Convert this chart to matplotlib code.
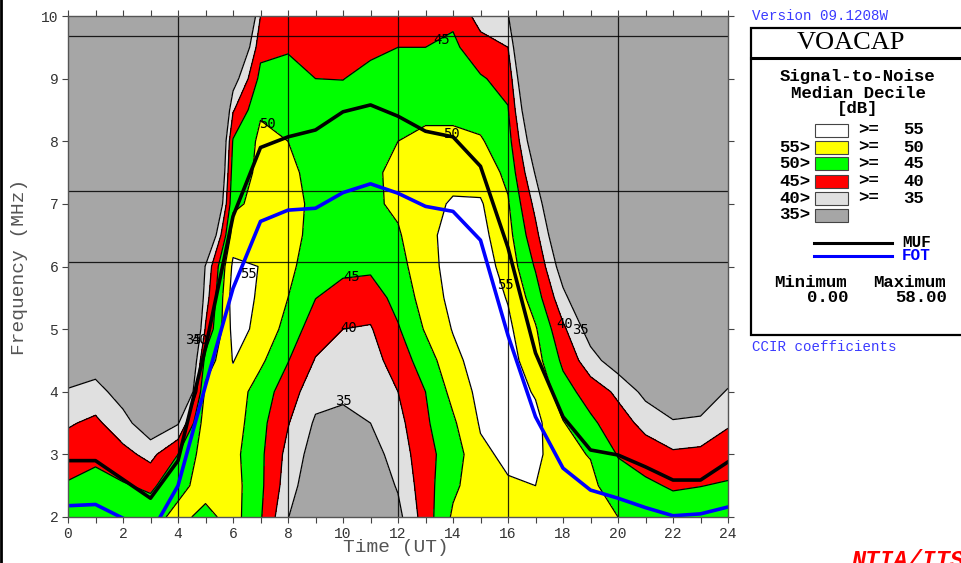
import numpy as np
import matplotlib
matplotlib.use("Agg")
import matplotlib.pyplot as plt
from matplotlib.patches import Rectangle
from matplotlib.lines import Line2D

# --- data ---
hours = np.arange(0, 25)
freqs = np.arange(2.0, 10.01, 0.5)

# median SNR (dB), one row per UT hour, columns = 2.0, 2.5, ... 10.0 MHz
snr_by_hour = [
    [48.5, 45.5, 42.5, 39.5, 35.5, 31, 27, 23, 19, 15, 12, 9, 6, 4, 2, 1, 0],          # 0
    [49, 46.5, 44, 41, 37, 32, 28, 24, 20, 16, 12, 9, 6, 4, 2, 1, 0],                  # 1
    [49, 45.5, 41.5, 37, 32.5, 28, 24, 20, 16, 13, 10, 7, 5, 3, 2, 1, 0],              # 2
    [48, 44, 38.5, 31, 26, 22, 18, 14, 11, 8, 6, 4, 3, 2, 1, 0, 0],                    # 3
    [51.5, 48.5, 45, 34.5, 15, 10, 8, 6, 5, 4, 3, 2, 2, 1, 1, 0, 0],                   # 4
    [48.5, 52, 52.5, 53, 51.5, 47, 40.5, 37.5, 35.5, 24, 12, 6, 4, 3, 2, 1, 0],        # 5
    [52, 52, 51.5, 52.5, 53, 55.2, 56.5, 57.5, 56, 52.5, 49, 47.5, 45.5, 39.5, 32, 22, 12],  # 6
    [45.5, 46, 46, 46.5, 47.5, 51, 54, 54.3, 54.9, 53, 51.5, 51, 51, 49.5, 46.5, 43.5, 40],  # 7
    [35.2, 37.5, 38.5, 40.3, 42.5, 45.2, 48, 50, 51.2, 52, 52, 51, 50, 48.5, 46.5, 44.6, 43],  # 8
    [28, 30.5, 32.5, 34.3, 36.8, 39.7, 42.3, 45.1, 47.2, 48.2, 48.7, 48.6, 48.3, 47.2, 45, 43.5, 42],  # 9
    [27, 30, 32, 34, 35.7, 37.8, 40, 43, 46.2, 47.5, 48.3, 48.5, 48.2, 47, 44.9, 43.5, 42],  # 10
    [28, 31, 33, 35, 36.5, 38, 39.6, 42.3, 46, 48.3, 49.2, 49.2, 48.8, 48, 46.4, 44, 42.5],  # 11
    [33.5, 35.5, 37, 38.5, 40, 42.3, 44.5, 46.8, 48.3, 49.5, 50.8, 51, 50, 48.8, 47.3, 45, 43],  # 12
    [42.5, 43, 43.5, 44.2, 45, 47.5, 50.5, 52, 53, 53.5, 53.5, 53, 51.5, 48.5, 47, 45, 43],  # 13
    [50.8, 49, 47.3, 49.2, 51.5, 53.5, 55.3, 56.5, 57, 57, 55.5, 53.5, 51, 49, 48, 46, 44],  # 14
    [52, 53, 54, 55.5, 56.5, 57.5, 58, 58, 57.5, 56.5, 55.5, 53, 50.5, 48, 45.5, 42, 38],  # 15
    [53, 54.5, 56, 57, 57.5, 57, 56, 54.7, 53, 51.7, 50.5, 48.8, 47, 45.3, 43.3, 40, 35.5],  # 16
    [53.5, 55, 56.5, 56.5, 54.5, 52, 50.5, 47.5, 44.5, 41.5, 38.5, 34.5, 30, 25, 20, 15, 10],  # 17
    [52, 51.5, 51, 50.3, 47, 44, 41, 36.5, 32, 28, 24, 20, 16, 12, 9, 6, 3],           # 18
    [51.5, 51, 49.8, 46, 42.8, 37, 32.5, 28, 24, 20, 16, 13, 10, 7, 5, 3, 1],          # 19
    [50, 47.5, 44.7, 42.2, 39, 32, 27, 23, 19, 15, 12, 9, 7, 5, 3, 2, 1],              # 20
    [48.8, 46, 42.5, 38.5, 33.5, 29, 25, 21, 17, 14, 11, 8, 6, 4, 3, 2, 1],            # 21
    [48, 44.4, 40.8, 35.5, 31, 27, 23, 19, 16, 13, 10, 8, 6, 4, 3, 2, 1],              # 22
    [48, 44.9, 41.3, 36, 31.5, 27.5, 23.5, 19.5, 16, 13, 10, 8, 6, 4, 3, 2, 1],        # 23
    [48.5, 45.5, 42.5, 39.5, 35.5, 31, 27, 23, 19, 15, 12, 9, 6, 4, 2, 1, 0],          # 24
]

muf = [2.9, 2.9, 2.6, 2.3, 2.9, 4.7, 6.8, 7.9, 8.07, 8.18, 8.47, 8.58, 8.4,
       8.16, 8.07, 7.6, 6.3, 4.62, 3.6, 3.07, 2.99, 2.8, 2.59, 2.59, 2.88]
fot = [2.18, 2.2, 1.98, 1.73, 2.5, 4.1, 5.65, 6.72, 6.9, 6.93, 7.18, 7.32, 7.17,
       6.96, 6.88, 6.42, 4.9, 3.6, 2.78, 2.43, 2.3, 2.15, 2.02, 2.05, 2.16]

bc_freqs = [6.07, 7.2, 9.68]
levels = [-1, 35, 40, 45, 50, 55, 100]
fill_colors = ['#a6a6a6', '#e0e0e0', '#ff0000', '#00ff00', '#ffff00', '#ffffff']

snr = np.array(snr_by_hour).T

W, H = 961, 563
MONO = 'Liberation Mono'


def fx(px):
    return px / W


def fy(py):
    return 1 - py / H


fig = plt.figure(figsize=(W / 100, H / 100), dpi=100)
fig.patch.set_facecolor('white')
ax = fig.add_axes([fx(68), fy(517), 660 / W, 501 / H])

ax.contourf(hours, freqs, snr, levels=levels, colors=fill_colors)
ax.contour(hours, freqs, snr, levels=levels[1:-1], colors='black', linewidths=0.9)

for h in range(4, 24, 4):
    ax.axvline(h, color='black', lw=0.9, alpha=0.85)
for f in bc_freqs:
    ax.axhline(f, color='black', lw=0.9, alpha=0.85)

ax.plot(hours, muf, color='black', lw=2.6)
ax.plot(hours, fot, color='#0000ff', lw=2.6)

# contour labels, placed like VOACAP does
lab = dict(fontsize=10, family='DejaVu Sans Mono', color='black',
           ha='center', va='center')
ax.text(6.55, 5.88, '55', **lab)
ax.text(7.25, 8.27, '50', **lab)
ax.text(13.6, 9.62, '45', **lab)
ax.text(13.95, 8.12, '50', **lab)
ax.text(10.3, 5.83, '45', **lab)
ax.text(10.2, 5.02, '40', **lab)
ax.text(10.0, 3.86, '35', **lab)
ax.text(15.9, 5.7, '55', **lab)
ax.text(18.05, 5.08, '40', **lab)
ax.text(18.65, 4.98, '35', **lab)
ax.text(4.55, 4.82, '35', **lab)
ax.text(4.8, 4.82, '40', **lab)

ax.set_xlim(0, 24)
ax.set_ylim(2, 10)
ax.set_xticks(range(0, 25, 2))
ax.set_xticks(range(0, 25), minor=True)
ax.set_yticks(range(2, 11))
ax.tick_params(which='both', direction='out', length=4, width=0.8, color='#444444',
               top=True, right=True, labelsize=10.5, labelcolor='#333333', pad=3)
for t in ax.get_xticklabels() + ax.get_yticklabels():
    t.set_family(MONO)
for s in ax.spines.values():
    s.set_color('#555555')
    s.set_linewidth(1)

fig.text(fx(20), fy(267), 'Frequency (MHz)', rotation=90, ha='center', va='center',
         family=MONO, fontsize=14, color='#555555')
fig.text(fx(396), fy(548), 'Time (UT)', ha='center', va='center',
         family=MONO, fontsize=14, color='#555555')

# left frame bar
fig.add_artist(Line2D([fx(1.2), fx(1.2)], [0, 1], color='black', lw=2))

# --- legend panel ---
fig.text(fx(752), fy(16), 'Version 09.1208W', ha='left', va='center',
         family=MONO, fontsize=10.2, color='#3a3aff')
fig.add_artist(Rectangle((fx(751), fy(335)), (990 - 751) / W, 307 / H,
                         transform=fig.transFigure, facecolor='white',
                         edgecolor='black', lw=1.6))
fig.add_artist(Line2D([fx(751), fx(990)], [fy(58), fy(58)], color='black', lw=2.2))
fig.text(fx(851), fy(43), 'VOACAP', ha='center', va='center',
         family='Liberation Serif', fontsize=19)

bold = dict(family=MONO, fontweight='bold', fontsize=12.5, color='black')
fig.text(fx(858), fy(76), 'Signal-to-Noise', ha='center', va='center', **bold)
fig.text(fx(858), fy(93), 'Median Decile', ha='center', va='center', **bold)
fig.text(fx(858), fy(109), '[dB]', ha='center', va='center', **bold)

band_left = ['', '55>', '50>', '45>', '40>', '35>']
band_right = ['55', '50', '45', '40', '35', '']
for i, (lt, rt, c) in enumerate(zip(band_left, band_right, fill_colors[::-1])):
    yc = 130 + 17 * i
    fig.add_artist(Rectangle((fx(815), fy(yc + 6.5)), 33 / W, 13 / H,
                             transform=fig.transFigure, facecolor=c,
                             edgecolor='#444444', lw=0.8))
    if lt:
        fig.text(fx(810), fy(yc), lt, ha='right', va='center', **bold)
    if rt:
        fig.text(fx(858), fy(yc), '>=', ha='left', va='center', **bold)
        fig.text(fx(924), fy(yc), rt, ha='right', va='center', **bold)

fig.add_artist(Line2D([fx(814), fx(892)], [fy(243), fy(243)], color='black', lw=2.2))
fig.add_artist(Line2D([fx(814), fx(892)], [fy(256), fy(256)], color='#0000ff', lw=2.2))
fig.text(fx(902), fy(242), 'MUF', ha='left', va='center', family=MONO,
         fontweight='bold', fontsize=11.5, color='black')
fig.text(fx(902), fy(256), 'FOT', ha='left', va='center', family=MONO,
         fontweight='bold', fontsize=11.5, color='#0000ff')

fig.text(fx(810), fy(283), 'Minimum', ha='center', va='center', **bold)
fig.text(fx(909), fy(283), 'Maximum', ha='center', va='center', **bold)
fig.text(fx(848), fy(298), '0.00', ha='right', va='center', **bold)
fig.text(fx(947), fy(298), '58.00', ha='right', va='center', **bold)

fig.text(fx(752), fy(347), 'CCIR coefficients', ha='left', va='center',
         family=MONO, fontsize=10.2, color='#3a3aff')
fig.text(fx(852), fy(549), 'NTIA/ITS', ha='left', va='top', family=MONO,
         fontweight='bold', style='italic', fontsize=17, color='#ff0000')

fig.savefig('out.png', dpi=100)
